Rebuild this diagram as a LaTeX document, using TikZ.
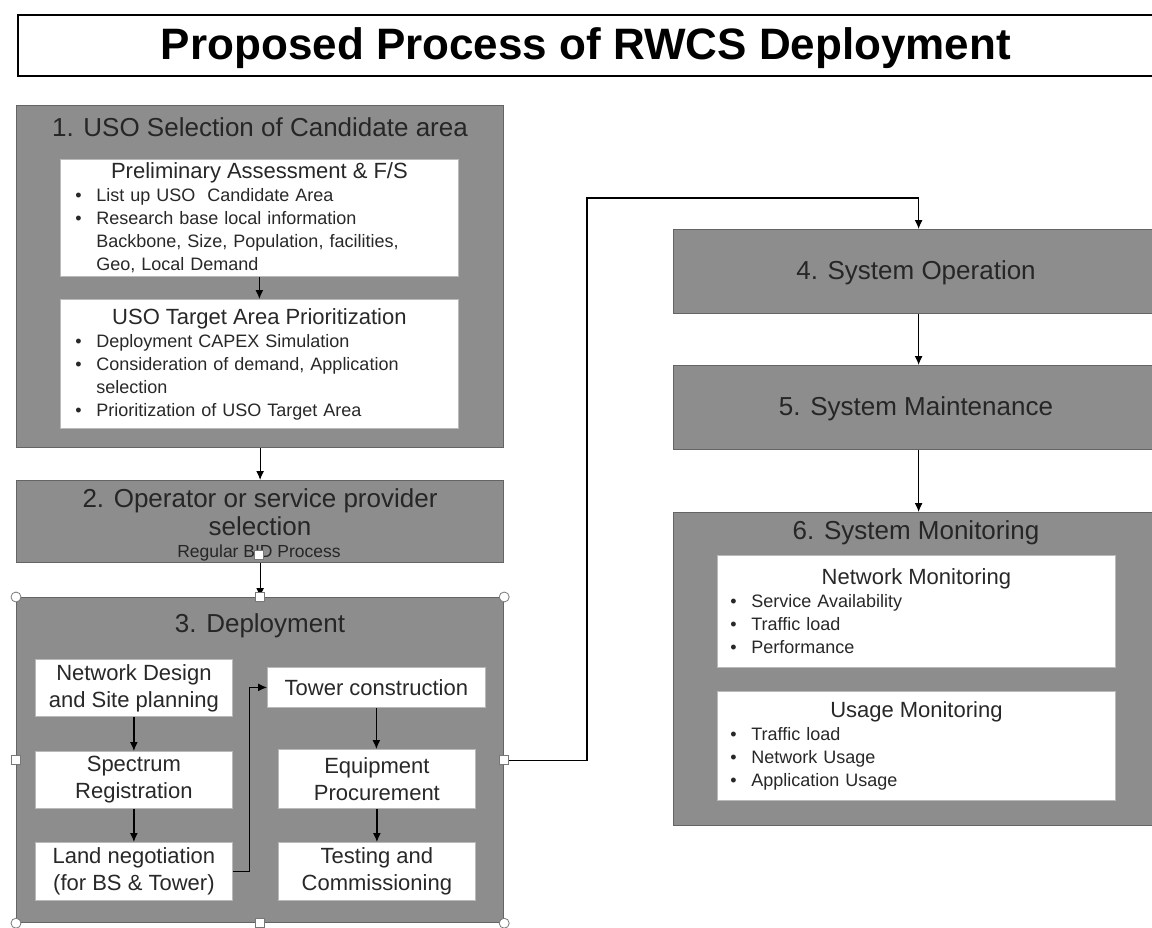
\documentclass[tikz,border=0pt]{standalone}
\usepackage{fontspec}
\setmainfont{Liberation Sans}
\usetikzlibrary{arrows.meta}
\definecolor{boxgray}{RGB}{141,141,141}
\definecolor{boxedge}{RGB}{100,100,100}
\definecolor{titletext}{RGB}{38,38,38}
\definecolor{innertext}{RGB}{40,40,40}
\definecolor{inneredge}{RGB}{185,185,185}
\definecolor{handleedge}{RGB}{120,120,120}
\newcommand\bul{\makebox[21pt][l]{\textbullet}}
\newcommand\ind{\hspace*{21pt}}
\begin{document}
\begin{tikzpicture}[x=1pt,y=-1pt,
  graybox/.style={draw=boxedge, line width=1.2pt, fill=boxgray, anchor=north west, inner sep=0pt},
  whitebox/.style={draw=inneredge, line width=0.8pt, fill=white, anchor=north west, inner sep=0pt, text=innertext},
  graytitle/.style={text=titletext, font=\fontsize{26}{28}\selectfont, align=center, inner sep=0pt},
  listtext/.style={font=\fontsize{18}{23}\selectfont, align=left},
  stepbox/.style={whitebox, font=\fontsize{22}{27}\selectfont, align=center},
  arr/.style={draw=black, line width=1.2pt, -{Latex[length=9pt,width=8pt]}},
  hcirc/.style={circle, draw=handleedge, fill=white, line width=0.8pt, minimum size=10pt, inner sep=0pt},
  hsq/.style={rectangle, draw=handleedge, fill=white, line width=0.8pt, minimum size=9pt, inner sep=0pt}
]
\useasboundingbox (0,0) rectangle (1152,927);
\clip (0,0) rectangle (1152,927);

% title
\node[draw=black, line width=1.6pt, anchor=north west, minimum width=1160pt, minimum height=61pt, inner sep=0pt] (titlebox) at (17,14) {};
\node[font=\fontsize{44}{48}\bfseries, inner sep=0pt] (title) at (586,48) {Proposed Process of RWCS Deployment};

% box 1
\node[graybox, minimum width=487pt, minimum height=342pt] (b1) at (16,105) {};
\node[graytitle] (t1) at (260,127) {1. USO Selection of Candidate area};
\node[whitebox, listtext, minimum width=398pt, minimum height=117pt, text width=368pt] (pa) at (60,159) {%
\centerline{\fontsize{22}{23}\selectfont Preliminary Assessment \& F/S}
\bul List up USO\ \ Candidate Area\\
\bul Research base local information\\
\ind Backbone, Size, Population, facilities,\\
\ind Geo, Local Demand};
\node[whitebox, listtext, minimum width=398pt, minimum height=129pt, text width=368pt] (tp) at (60,299) {%
\centerline{\fontsize{22}{24}\selectfont USO Target Area Prioritization}
\bul Deployment CAPEX Simulation\\
\bul Consideration of demand, Application\\
\ind selection\\
\bul Prioritization of USO Target Area};

% box 2
\node[graybox, minimum width=487pt, minimum height=82pt] (b2) at (16,480) {};
\node[graytitle] (t2) at (260,512) {2. Operator or service provider\\selection};
\node[text=titletext, font=\fontsize{17.5}{18}\selectfont, inner sep=0pt] (t2b) at (259,553) {Regular BID Process};

% box 3
\node[graybox, minimum width=487pt, minimum height=325pt] (b3) at (16,597) {};
\node[graytitle] (t3) at (260,626) {3. Deployment};
\node[stepbox, minimum width=197pt, minimum height=57pt] (nd) at (35,659) {Network Design\\and Site planning};
\node[stepbox, minimum width=197pt, minimum height=57pt] (sr) at (35,751) {Spectrum\\Registration};
\node[stepbox, minimum width=197pt, minimum height=58pt] (ln) at (35,842) {Land negotiation\\(for BS \& Tower)};
\node[stepbox, minimum width=218pt, minimum height=40pt] (tc) at (267,667) {Tower construction};
\node[stepbox, minimum width=197pt, minimum height=59pt] (ep) at (278,749) {Equipment\\Procurement};
\node[stepbox, minimum width=197pt, minimum height=58pt] (tm) at (278,842) {Testing and\\Commissioning};

% right column
\node[graybox, minimum width=490pt, minimum height=84pt] (b4) at (673,229) {};
\node[graytitle] (t4) at (916,273) {4. System Operation};
\node[graybox, minimum width=490pt, minimum height=84pt] (b5) at (673,365) {};
\node[graytitle] (t5) at (916,409) {5. System Maintenance};
\node[graybox, minimum width=490pt, minimum height=313pt] (b6) at (673,512) {};
\node[graytitle] (t6) at (916,533) {6. System Monitoring};
\node[whitebox, listtext, minimum width=398pt, minimum height=112pt, text width=372pt] (nm) at (717,555) {%
\centerline{\fontsize{22}{23}\selectfont Network Monitoring}
\bul Service Availability\\
\bul Traffic load\\
\bul Performance};
\node[whitebox, listtext, minimum width=398pt, minimum height=109pt, text width=372pt] (um) at (717,691) {%
\centerline{\fontsize{22}{23}\selectfont Usage Monitoring}
\bul Traffic load\\
\bul Network Usage\\
\bul Application Usage};

% connectors
\draw[arr] (pa.south) -- (tp.north);
\draw[arr] (b1.south) -- (b2.north);
\draw[arr] (b2.south) -- (b3.north);
\draw[arr] (nd.south) -- (sr.north);
\draw[arr] (sr.south) -- (ln.north);
\draw[arr] (tc.south) -- (tc.south |- ep.north);
\draw[arr] (ep.south) -- (tm.north);
\draw[arr] (ln.east) -- ++(17,0) |- (tc.west);
\coordinate (turn) at (587,198);
\draw[arr] (b3.east) -| (turn) -| (b4.north);
\draw[arr] (b4.south) -- (b5.north);
\draw[arr] (b5.south) -- (b6.north);

% selection handles
\node[hcirc] (hnw) at (b3.north west) {};
\node[hcirc] (hne) at (b3.north east) {};
\node[hcirc] (hsw) at (b3.south west) {};
\node[hcirc] (hse) at (b3.south east) {};
\node[hsq] (hn) at (b3.north) {};
\node[hsq] (hs) at (b3.south) {};
\node[hsq] (hw) at (b3.west) {};
\node[hsq] (he) at (b3.east) {};
\node[hsq] (hc) at (259,555) {};
\end{tikzpicture}
\end{document}
